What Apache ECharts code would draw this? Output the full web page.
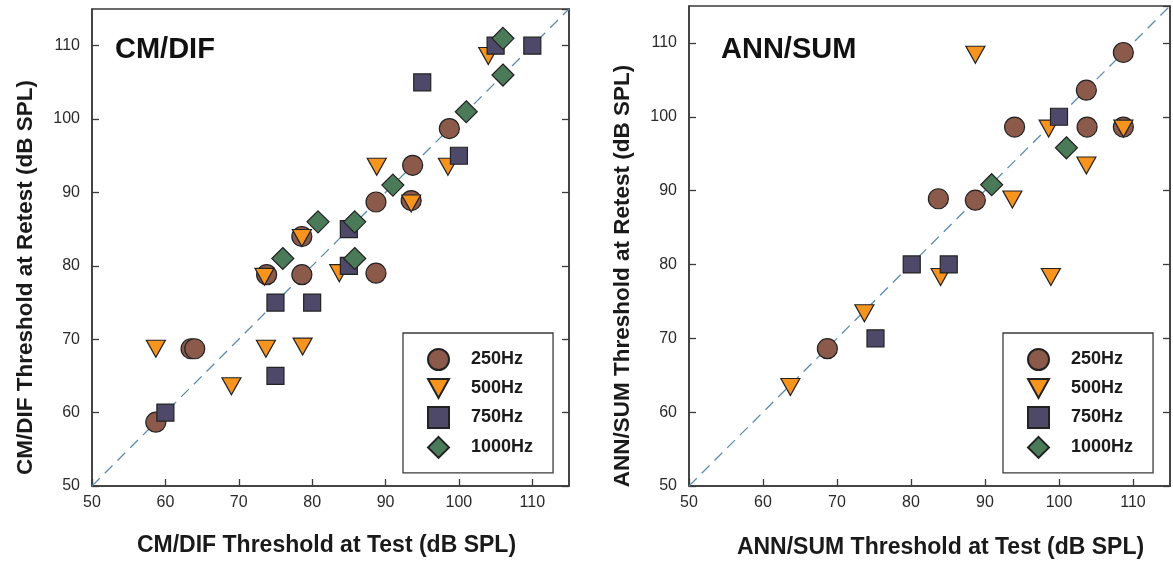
<!DOCTYPE html>
<html>
<head>
<meta charset="utf-8">
<script src="https://cdn.jsdelivr.net/npm/echarts@6/dist/echarts.min.js"></script>
<style>
html,body{margin:0;padding:0;background:#fff;}
#chart{width:1173px;height:564px;}
</style>
</head>
<body>
<div id="chart"></div>
<script>
// ---- Data (dB SPL): [test, retest] ----
const FREQS = ['250Hz', '500Hz', '750Hz', '1000Hz'];
const AXIS_MIN = 50, AXIS_MAX = 115, AXIS_STEP = 10;
const IDENTITY = [[50, 50], [115, 115]];

const cmdif_250 = [[58.7,58.7],[63.5,68.7],[64,68.7],[73.8,78.8],[78.6,78.8],[78.6,84],[88.7,79],[88.7,88.7],[93.5,88.9],[93.7,93.7],[98.7,98.7]];
const cmdif_500 = [[58.7,68.7],[69,63.6],[73.7,68.7],[78.7,69],[73.5,78.5],[83.7,79],[78.6,83.8],[93.5,88.5],[88.8,93.5],[98.5,93.5],[104,108.6]];
const cmdif_750 = [[60,60],[75,65],[75,75],[80,75],[85,80],[85,85],[95,105],[100,95],[105,110],[110,110]];
const cmdif_1000 = [[76,81],[80.8,86],[85.8,86],[85.8,81],[91,91],[101,101],[106,106],[106,111]];

const annsum_250 = [[68.7,68.6],[83.7,88.9],[88.7,88.7],[94,98.6],[103.8,98.6],[103.7,103.6],[108.7,98.6],[108.7,108.7]];
const annsum_500 = [[63.7,63.4],[73.7,73.4],[84,78.3],[93.7,88.8],[98.9,78.3],[98.6,98.4],[103.7,93.4],[108.7,98.4],[88.7,108.4]];
const annsum_750 = [[75.2,70],[80.1,80],[85.1,80],[100,100]];
const annsum_1000 = [[90.9,90.8],[101,95.8]];

const PANELS = [
  {title: 'CM/DIF', xName: 'CM/DIF Threshold at Test (dB SPL)', yName: 'CM/DIF Threshold at Retest (dB SPL)',
   sets: [cmdif_250, cmdif_500, cmdif_750, cmdif_1000]},
  {title: 'ANN/SUM', xName: 'ANN/SUM Threshold at Test (dB SPL)', yName: 'ANN/SUM Threshold at Retest (dB SPL)',
   sets: [annsum_250, annsum_500, annsum_750, annsum_1000]}
];

// ---- Styles ----
const FONT = '"Liberation Sans", Arial, Helvetica, sans-serif';
const COLORS = ['#8c5a4a', '#f7941e', '#4e4968', '#4b7a58'];
const SYMBOLS = ['circle', 'path://M0,0 L20,0 L10,18 Z', 'rect', 'diamond'];
const SIZES = [20, [19, 17], 17, 22];
const GRIDS = [
  {left: 92, top: 9, width: 477, height: 477},
  {left: 689, top: 6, width: 481, height: 480}
];
const LEGEND_POS = [{left: 403, top: 333}, {left: 1003, top: 333}];
const TITLE_POS = [{left: 115, top: 35}, {left: 721, top: 35}];
const XNAME_PAD = [[0, 8, 0, 0], [0, 0, 0, 22]];
const XNAME_GAP = [48, 50];

const chart = echarts.init(document.getElementById('chart'), null, {renderer: 'canvas'});

const grid = [], xAxis = [], yAxis = [], series = [], legend = [], title = [];
PANELS.forEach((p, i) => {
  grid.push(Object.assign({show: true, borderColor: '#3a3a3a', borderWidth: 1.5, backgroundColor: 'transparent'}, GRIDS[i]));
  const base = {
    gridIndex: i, type: 'value', min: AXIS_MIN, max: AXIS_MAX, interval: AXIS_STEP,
    splitLine: {show: false},
    axisLine: {show: true, onZero: false, lineStyle: {color: '#3a3a3a', width: 1.5}},
    axisTick: {show: true, inside: true, length: 7, lineStyle: {color: '#3a3a3a', width: 1.3}},
    axisLabel: {show: true, showMaxLabel: false, color: '#2a2a2a', fontFamily: FONT, fontSize: 16}
  };
  xAxis.push(Object.assign({}, base, {
    position: 'bottom', name: p.xName, nameLocation: 'middle', nameGap: XNAME_GAP[i],
    axisLabel: Object.assign({}, base.axisLabel, {margin: 9}),
    nameTextStyle: {fontFamily: FONT, fontSize: 23, fontWeight: 'bold', color: '#1a1a1a', padding: XNAME_PAD[i]}
  }));
  yAxis.push(Object.assign({}, base, {
    position: 'left', name: p.yName, nameLocation: 'middle', nameGap: 55, nameRotate: 90,
    axisLabel: Object.assign({}, base.axisLabel, {margin: 12}),
    nameTextStyle: {fontFamily: FONT, fontSize: 22.5, fontWeight: 'bold', color: '#1a1a1a', padding: [0, 60, 0, 0]}
  }));
  yAxis.push(Object.assign({}, base, {
    position: 'right', axisLabel: {show: false}
  }));
  series.push({
    type: 'line', xAxisIndex: i, yAxisIndex: 2 * i, data: IDENTITY, symbol: 'none', silent: true,
    lineStyle: {color: '#5b8db0', width: 1.3, type: [11, 7]}, z: 1
  });
  p.sets.forEach((d, k) => {
    series.push({
      type: 'scatter', name: FREQS[k], xAxisIndex: i, yAxisIndex: 2 * i, data: d,
      symbol: SYMBOLS[k], symbolSize: SIZES[k], z: 2 + k,
      itemStyle: {color: COLORS[k], borderColor: '#222', borderWidth: 1.2, opacity: 1}
    });
  });
  legend.push(Object.assign({
    data: FREQS, orient: 'vertical', selectedMode: false,
    itemWidth: 21, itemHeight: 21, itemGap: 7,
    padding: [15, 20, 14, 24],
    borderColor: '#3a3a3a', borderWidth: 1.3, backgroundColor: '#fff',
    textStyle: {fontFamily: FONT, fontSize: 18, fontWeight: 'bold', color: '#1a1a1a', padding: [0, 0, 0, 17]}
  }, LEGEND_POS[i]));
  title.push(Object.assign({
    text: p.title, padding: 0,
    textStyle: {fontFamily: FONT, fontSize: 29, fontWeight: 'bold', color: '#111'}
  }, TITLE_POS[i]));
});

chart.setOption({
  animation: false,
  backgroundColor: '#fff',
  title, grid, xAxis, yAxis, series, legend
});
</script>
</body>
</html>
